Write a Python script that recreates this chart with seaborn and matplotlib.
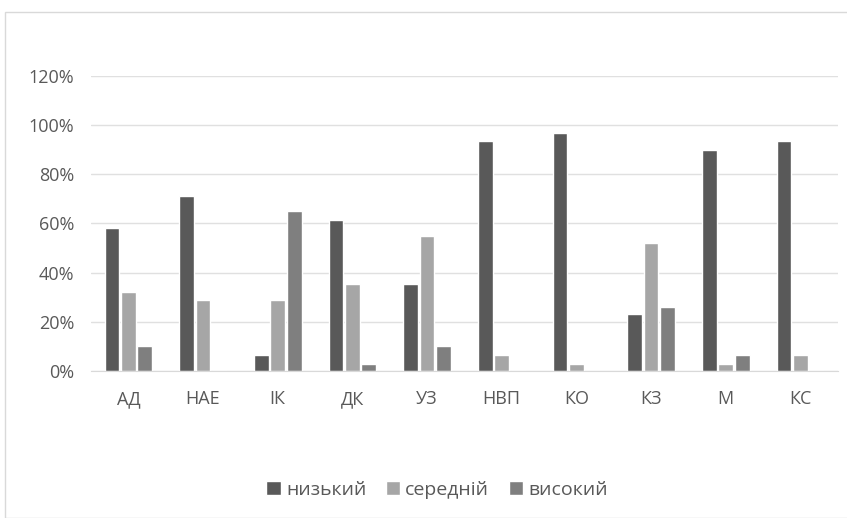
import pandas as pd
import seaborn as sns
import matplotlib.pyplot as plt
from matplotlib.patches import Rectangle
from matplotlib.ticker import PercentFormatter

# data
categories = ['АД', 'НАЕ', 'ІК', 'ДК', 'УЗ', 'НВП', 'КО', 'КЗ', 'М', 'КС']
levels = ['низький', 'середній', 'високий']
low = [58, 71, 6.5, 61.5, 35.5, 93.5, 97, 23, 90, 93.5]
mid = [32, 29, 29, 35.5, 55, 6.5, 3, 52, 3, 6.5]
high = [10, 0, 65, 3, 10, 0, 0, 26, 6.5, 0]

df = pd.DataFrame({'cat': categories * 3,
                   'level': [levels[0]] * 10 + [levels[1]] * 10 + [levels[2]] * 10,
                   'value': [v / 100 for v in low + mid + high]})

sns.set_style('white')
plt.rcParams['font.family'] = ['Open Sans', 'DejaVu Sans']

fig = plt.figure(figsize=(8.47, 5.18), dpi=100)
ax = fig.add_axes([0.1075, 0.2838, 0.8815, 0.5695])

palette = {'низький': '#595959', 'середній': '#a6a6a6', 'високий': '#7f7f7f'}
sns.barplot(data=df, x='cat', y='value', hue='level', palette=palette,
            width=0.66, gap=0.1, ax=ax, legend=True, saturation=1)

ax.set_ylim(0, 1.2)
ax.set_yticks([0, 0.2, 0.4, 0.6, 0.8, 1.0, 1.2])
ax.yaxis.set_major_formatter(PercentFormatter(1.0, decimals=0))
ax.grid(axis='y', color='#e0e0e0', linewidth=1)
ax.set_axisbelow(True)
for s in ['top', 'right', 'left']:
    ax.spines[s].set_visible(False)
ax.spines['bottom'].set_color('#d9d9d9')
ax.set_xlabel('')
ax.set_ylabel('')
ax.tick_params(axis='both', colors='#595959', labelsize=13, length=0)
ax.tick_params(axis='y', pad=12)
ax.tick_params(axis='x', pad=14)
ax.set_xlim(-0.5, 9.5)

handles, labels = ax.get_legend_handles_labels()
ax.get_legend().remove()
fig.legend(handles, labels, loc='center', bbox_to_anchor=(0.516, 0.054), ncol=3,
           frameon=False, fontsize=14, handlelength=0.75, handleheight=0.75,
           handletextpad=0.25, columnspacing=1.0, labelcolor='#595959')

# chart area frame
fig.patches.append(Rectangle((5 / 847, 0), 1, 1 - 12 / 518, transform=fig.transFigure,
                             fill=False, edgecolor='#d9d9d9', linewidth=1))

fig.savefig('out.png', dpi=100)
